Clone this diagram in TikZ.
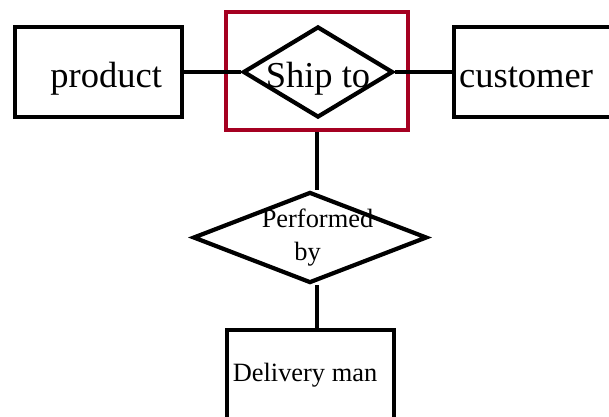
\documentclass[tikz,border=0pt]{standalone}
\usepackage{fontspec}
\setmainfont{Liberation Serif}
\usetikzlibrary{shapes.geometric}

\definecolor{aggred}{RGB}{165,0,33}

\tikzset{
    entity/.style={draw, line width=4.2pt, rectangle, minimum width=167pt, minimum height=90pt, inner sep=0pt},
    relation/.style={draw, line width=4.2pt, diamond, inner sep=0pt},
    bigtext/.style={font=\fontsize{36.5}{40}\selectfont, text height=30.6pt, text depth=0pt},
    smalltext/.style={font=\fontsize{26.4}{33}\selectfont},
    link/.style={line width=4.2pt},
}

\begin{document}
\begin{tikzpicture}[x=1pt, y=-1pt]

    % Page frame, same size as the output image
    \useasboundingbox (0,0) rectangle (609,416);
    \clip (0,0) rectangle (609,416);

    % Aggregation box round the "Ship to" relationship
    \node[draw=aggred, line width=3.6pt, minimum width=182pt, minimum height=118pt, inner sep=0pt] (aggregate) at (317,71) {};

    % Entities on either side (customer runs off the right edge)
    \node[entity, bigtext] (product) at (98.5,72) {\hspace*{15.4pt}product};
    \node[entity, bigtext] (customer) at (537.5,72) {customer\hspace*{23pt}};

    % Relationship inside the aggregation
    \node[relation, bigtext, minimum width=150pt, minimum height=91pt] (shipto) at (318,72) {\makebox[0pt]{Ship to}};

    % Second relationship and the entity below it (cut off at the bottom)
    \node[relation, smalltext, minimum width=234pt, minimum height=91pt] (performed) at (310,237.5)
        {\makebox[0pt]{\begin{tabular}{@{}c@{}}\hspace*{15pt}Performed\\by\hspace*{5pt}\end{tabular}}};
    \node[entity, smalltext] (delivery) at (310.5,375) {Delivery man\hspace*{11pt}};

    % Connectors
    \draw[link] (product) -- (shipto);
    \draw[link] (shipto) -- (customer);
    \draw[link] (aggregate.south) -- (aggregate.south |- performed.north);
    \draw[link] (aggregate.south |- performed.south) -- (aggregate.south |- delivery.north);

\end{tikzpicture}
\end{document}
